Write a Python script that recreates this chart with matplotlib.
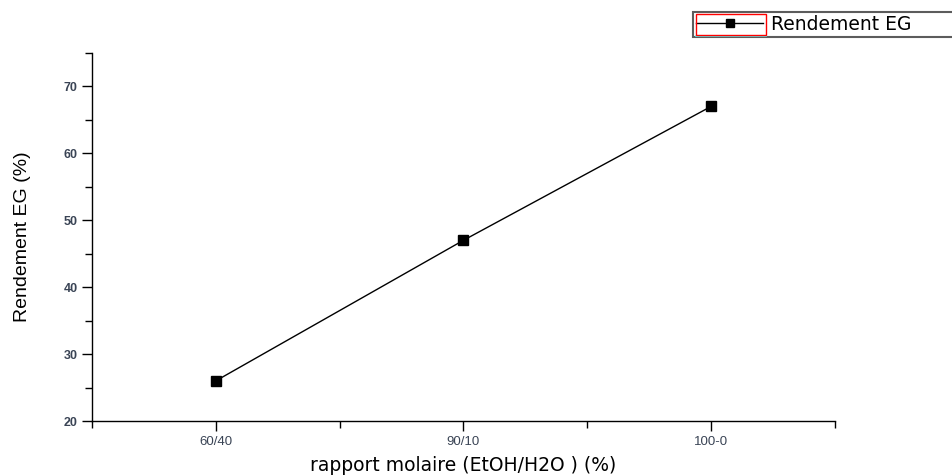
import matplotlib
matplotlib.use("Agg")
import matplotlib.pyplot as plt
from matplotlib.ticker import FixedLocator
from matplotlib.patches import Rectangle
from matplotlib.lines import Line2D

ratios = ["60/40", "90/10", "100-0"]
rendement = [26, 47, 67]

plt.rcParams['font.family'] = ['Liberation Sans', 'DejaVu Sans']

fig = plt.figure(figsize=(9.53, 4.76), dpi=100)
ax = fig.add_axes([0.0965, 0.1155, 0.7797, 0.7735])

x = list(range(1, len(ratios) + 1))
line, = ax.plot(x, rendement, color='black', lw=1.0, marker='s', ms=7,
                markerfacecolor='black', markeredgecolor='black', label='Rendement EG')

ax.set_xlim(0.5, 3.5)
ax.set_ylim(20, 75)
ax.set_xticks(x)
ax.set_xticklabels(ratios)
ax.xaxis.set_minor_locator(FixedLocator([0.5, 1.5, 2.5, 3.5]))
ax.yaxis.set_major_locator(FixedLocator([20, 30, 40, 50, 60, 70]))
ax.yaxis.set_minor_locator(FixedLocator([25, 35, 45, 55, 65, 75]))

for s in ['top', 'right']:
    ax.spines[s].set_visible(False)
for s in ['left', 'bottom']:
    ax.spines[s].set_linewidth(1.0)

ax.tick_params(which='major', direction='out', length=7, width=1.0,
               labelsize=9, labelcolor='#3a4455')
ax.tick_params(which='minor', direction='out', length=5, width=1.0)
for lab in ax.get_yticklabels():
    lab.set_fontweight('bold')
for lab in ax.get_xticklabels():
    lab.set_fontsize(9.5)

ax.set_ylabel('Rendement EG (%)', fontsize=14, family=['Liberation Sans'],
              labelpad=23)
ax.set_xlabel('rapport molaire (EtOH/H2O ) (%)', fontsize=13.5,
              family=['DejaVu Sans'], labelpad=6)

handle = Line2D([], [], color='black', lw=1.0, marker='s', ms=6,
                markerfacecolor='black', markeredgecolor='black')
leg = fig.legend(handles=[handle], labels=['Rendement EG'],
                 loc='upper left', mode='expand',
                 bbox_to_anchor=(693 / 953, 1 - 38 / 476, 262 / 953, 26 / 476),
                 frameon=True, fancybox=False, edgecolor='#333333',
                 prop={'family': 'DejaVu Sans', 'size': 13.5},
                 handlelength=3.6, borderpad=0.15,
                 handletextpad=0.4, borderaxespad=0)
leg.get_frame().set_linewidth(1.5)
leg.set_zorder(5)
fig.patches.append(Rectangle((696 / 953, 1 - 35 / 476), 70 / 953, 21 / 476,
                             transform=fig.transFigure, fill=False,
                             edgecolor='red', lw=1.0, zorder=10))
fig.lines.append(Line2D([696 / 953, 766 / 953], [1 - 36 / 476, 1 - 36 / 476],
                        transform=fig.transFigure, color='#5ff0f0', lw=1.2, zorder=10))

fig.savefig('out.png', dpi=100)
